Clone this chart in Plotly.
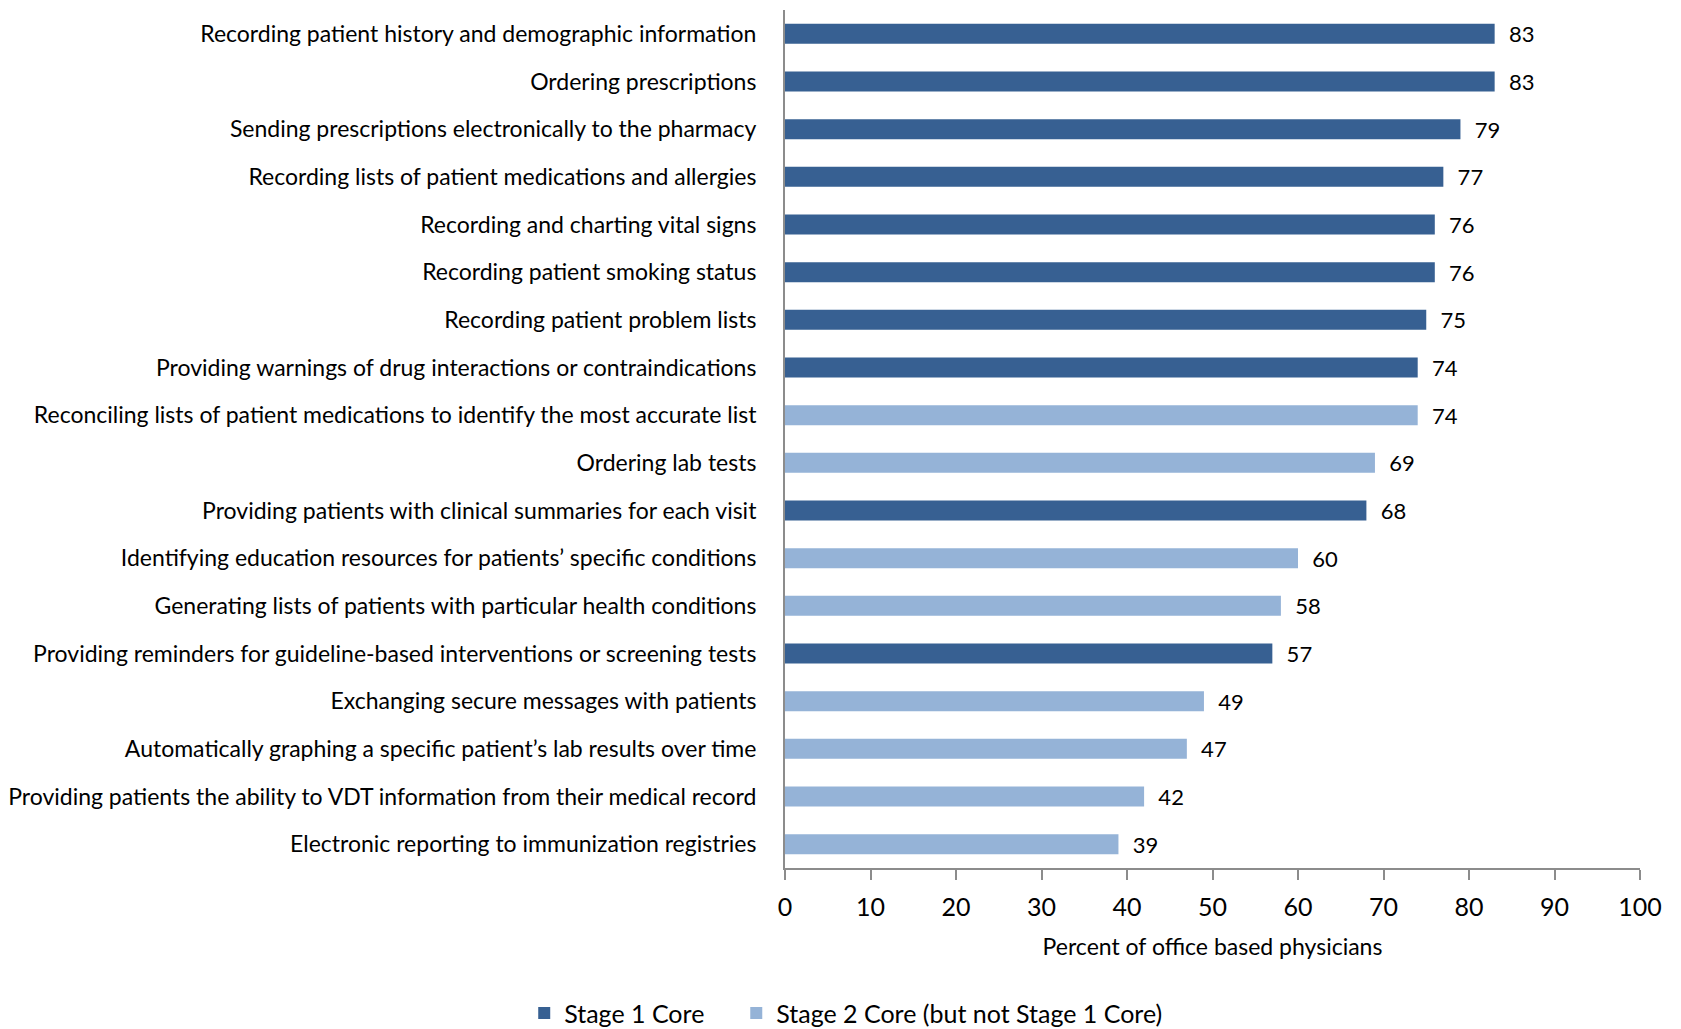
import plotly.graph_objects as go

categories = [
    "Recording patient history and demographic information",
    "Ordering prescriptions",
    "Sending prescriptions electronically to the pharmacy",
    "Recording lists of patient medications and allergies",
    "Recording and charting vital signs",
    "Recording patient smoking status",
    "Recording patient problem lists",
    "Providing warnings of drug interactions or contraindications",
    "Reconciling lists of patient medications to identify the most accurate list",
    "Ordering lab tests",
    "Providing patients with clinical summaries for each visit",
    "Identifying education resources for patients\u2019 specific conditions",
    "Generating lists of patients with particular health conditions",
    "Providing reminders for guideline-based interventions or screening tests",
    "Exchanging secure messages with patients",
    "Automatically graphing a specific patient\u2019s lab results over time",
    "Providing patients the ability to VDT information from their medical record",
    "Electronic reporting to immunization registries",
]
values = [83, 83, 79, 77, 76, 76, 75, 74, 74, 69, 68, 60, 58, 57, 49, 47, 42, 39]
stage = ["Stage 1 Core"] * 8 + ["Stage 2 Core (but not Stage 1 Core)"] * 2 + \
        ["Stage 1 Core"] + ["Stage 2 Core (but not Stage 1 Core)"] * 2 + \
        ["Stage 1 Core"] + ["Stage 2 Core (but not Stage 1 Core)"] * 4
series_names = ["Stage 1 Core", "Stage 2 Core (but not Stage 1 Core)"]
colors = {"Stage 1 Core": "#376092", "Stage 2 Core (but not Stage 1 Core)": "#95B3D7"}
legend_ids = {"Stage 1 Core": "legend", "Stage 2 Core (but not Stage 1 Core)": "legend2"}

FONT = "Lato"

fig = go.Figure()
for name in series_names:
    ys = [c for c, s in zip(categories, stage) if s == name]
    xs = [v for v, s in zip(values, stage) if s == name]
    fig.add_trace(go.Bar(
        y=ys, x=xs, name=name, orientation="h",
        marker=dict(color=colors[name], line=dict(width=0)),
        text=["\u00a0\u00a0" + str(v) for v in xs], textposition="outside",
        constraintext="none",
        textfont=dict(size=22, color="#000000", family=FONT),
        cliponaxis=False,
        legend=legend_ids[name],
    ))

legend_common = dict(orientation="h", xanchor="left", xref="paper",
                     y=-0.196, yanchor="bottom", font=dict(size=25, family=FONT),
                     itemwidth=30, bgcolor="rgba(0,0,0,0)")
fig.update_layout(
    width=1665, height=1021,
    margin=dict(l=777, r=33, t=2, b=161, autoexpand=False),
    paper_bgcolor="white", plot_bgcolor="white",
    barmode="relative", bargap=0.58,
    font=dict(family=FONT, color="#000000"),
    legend=dict(x=-0.305, **legend_common),
    legend2=dict(x=-0.057, **legend_common),
    showlegend=True,
)
fig.update_xaxes(
    range=[0, 100], dtick=10, tick0=0, automargin=False,
    showgrid=False, zeroline=False,
    showline=True, linecolor="#8c8c8c", linewidth=2,
    ticks="outside", ticklen=10, tickcolor="#8c8c8c", tickwidth=2,
    ticklabelstandoff=6,
    tickfont=dict(size=25, family=FONT),
    title=dict(text="Percent of office based physicians", font=dict(size=23, family=FONT), standoff=19),
)
fig.update_yaxes(
    categoryorder="array", categoryarray=categories, autorange="reversed",
    automargin=False,
    showgrid=False, showline=True, linecolor="#8c8c8c", linewidth=2,
    ticks="", ticklabelstandoff=22,
    tickfont=dict(size=23, family=FONT),
)

fig.write_html("out.html")
